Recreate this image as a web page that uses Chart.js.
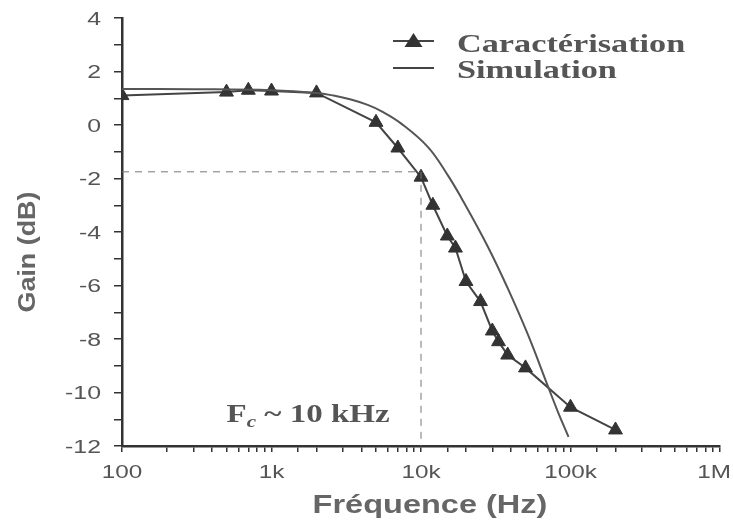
<!DOCTYPE html>
<html>
<head>
<meta charset="utf-8">
<script src="https://cdn.jsdelivr.net/npm/chart.js@4.4.1/dist/chart.umd.min.js"></script>
<style>
  html, body { margin: 0; padding: 0; background: #fff; }
  #wrap { width: 733px; height: 520px; }
</style>
</head>
<body>
<div id="wrap"><canvas id="gainChart" width="733" height="520"></canvas></div>
<script>
// measured response (triangles)
const charFreq = [100, 500, 700, 1000, 2000, 5000, 7000, 10000, 12000, 15000, 17000, 20000, 25000, 30000, 33000, 38000, 50000, 100000, 200000];
const charGain = [1.1, 1.23, 1.3, 1.27, 1.2, 0.1, -0.86, -1.95, -3.0, -4.15, -4.6, -5.85, -6.6, -7.7, -8.1, -8.6, -9.08, -10.55, -11.4];

// simulated response (plain line)
const simFreq = [100, 300, 1000, 2000, 2600, 3400, 4400, 5500, 7300, 11100, 15200, 18500, 28000, 38000, 52000, 71000, 83000, 97000];
const simGain = [1.35, 1.34, 1.3, 1.2, 1.1, 0.95, 0.75, 0.5, 0.07, -0.82, -1.9, -2.7, -4.55, -6.1, -7.85, -9.8, -10.77, -11.66];

// cutoff guide
const guideFreq = [100, 10000, 10000];
const guideGain = [-1.75, -1.75, -12];

const xTickValues = [100, 1000, 10000, 100000, 1000000];
const xTickLabels = ["100", "1k", "10k", "100k", "1M"];
const yTickValues = [4, 2, 0, -2, -4, -6, -8, -10, -12];
const seriesNames = ["Caractérisation", "Simulation"];

const toPoints = (xs, ys) => xs.map((x, i) => ({ x: x, y: ys[i] }));

const serif = "'Liberation Serif', 'DejaVu Serif', serif";
const sans = "'Liberation Sans', Arial, sans-serif";

// the scanned original has horizontally stretched lettering
function stretchText(ctx, text, x, y, sx, align) {
  ctx.save();
  ctx.translate(x, y);
  ctx.scale(sx, 1);
  ctx.textAlign = align;
  ctx.fillText(text, 0, 0);
  ctx.restore();
}

const overlay = {
  id: "overlay",
  afterDraw(chart) {
    const ctx = chart.ctx;
    const xs = chart.scales.x;
    const ys = chart.scales.y;
    ctx.save();
    ctx.textBaseline = "alphabetic";

    // tick labels
    ctx.fillStyle = "#555";
    ctx.font = "18px " + sans;
    xTickValues.forEach((v, i) => {
      const sx = 1.35;
      const half = ctx.measureText(xTickLabels[i]).width * sx / 2;
      const px = Math.min(xs.getPixelForValue(v), chart.width - 2 - half);
      stretchText(ctx, xTickLabels[i], px, 478, sx, "center");
    });
    yTickValues.forEach((v) => {
      stretchText(ctx, String(v), 101, ys.getPixelForValue(v) + 6.5, 1.38, "right");
    });

    // legend
    const lx = 393, lw = 41, tx = 457;
    const rows = [41, 68];
    ctx.strokeStyle = "#444";
    ctx.lineWidth = 2;
    rows.forEach((ry) => {
      ctx.beginPath();
      ctx.moveTo(lx, ry);
      ctx.lineTo(lx + lw, ry);
      ctx.stroke();
    });
    ctx.fillStyle = "#333";
    const cx = lx + lw / 2, cy = rows[0];
    ctx.beginPath();
    ctx.moveTo(cx, cy - 8);
    ctx.lineTo(cx + 9, cy + 6);
    ctx.lineTo(cx - 9, cy + 6);
    ctx.closePath();
    ctx.fill();

    ctx.fillStyle = "#555";
    ctx.font = "bold 25px " + serif;
    stretchText(ctx, seriesNames[0], tx, 52, 1.37, "left");
    stretchText(ctx, seriesNames[1], tx, 78, 1.37, "left");

    // cutoff annotation
    const ax = xs.getPixelForValue(500);
    const ay = ys.getPixelForValue(-11.1);
    ctx.save();
    ctx.translate(ax, ay);
    ctx.scale(1.32, 1);
    ctx.textAlign = "left";
    ctx.font = "bold 25px " + serif;
    ctx.fillText("F", 0, 0);
    let w = ctx.measureText("F").width;
    ctx.font = "italic bold 16px " + serif;
    ctx.fillText("c", w, 5);
    w += ctx.measureText("c").width;
    ctx.font = "bold 25px " + serif;
    ctx.fillText(" ~ 10 kHz", w, 0);
    ctx.restore();

    // axis titles
    ctx.fillStyle = "#666";
    ctx.font = "bold 25px " + sans;
    stretchText(ctx, "Fréquence (Hz)", 430, 513, 1.3, "center");

    ctx.translate(35, 252);
    ctx.rotate(-Math.PI / 2);
    ctx.font = "bold 24px " + sans;
    stretchText(ctx, "Gain (dB)", 0, 0, 1.12, "center");

    ctx.restore();
  }
};

new Chart(document.getElementById("gainChart"), {
  type: "line",
  data: {
    datasets: [
      {
        label: "guide",
        data: toPoints(guideFreq, guideGain),
        borderColor: "#777",
        borderWidth: 1,
        borderDash: [7, 6],
        pointRadius: 0,
        fill: false,
      },
      {
        label: seriesNames[1],
        data: toPoints(simFreq, simGain),
        borderColor: "#555",
        borderWidth: 2,
        pointRadius: 0,
        tension: 0.4,
        fill: false,
      },
      {
        label: seriesNames[0],
        data: toPoints(charFreq, charGain),
        borderColor: "#444",
        borderWidth: 2,
        pointStyle: "triangle",
        pointRadius: 8,
        pointBackgroundColor: "#333",
        pointBorderColor: "#333",
        pointBorderWidth: 1,
        fill: false,
      },
    ],
  },
  options: {
    responsive: false,
    animation: false,
    layout: { padding: { top: 18, right: 13, left: 0, bottom: 0 } },
    plugins: {
      legend: { display: false },
      tooltip: { enabled: false },
    },
    scales: {
      x: {
        type: "logarithmic",
        min: 100,
        max: 1000000,
        afterFit: (scale) => { scale.height = 74; },
        grid: { drawOnChartArea: false, drawTicks: true, tickLength: 6, color: "#333", lineWidth: 1.5 },
        border: { display: true, color: "#333", width: 2.5 },
        ticks: {
          autoSkip: false,
          maxRotation: 0,
          font: { family: sans, size: 18 },
          callback: () => "",
        },
      },
      y: {
        min: -12,
        max: 4,
        afterFit: (scale) => { scale.width = 122; },
        grid: { drawOnChartArea: false, drawTicks: true, tickLength: 8, color: "#333", lineWidth: 1.5 },
        border: { display: true, color: "#333", width: 2.5 },
        ticks: {
          stepSize: 1,
          autoSkip: false,
          font: { family: sans, size: 18 },
          callback: () => "",
        },
      },
    },
  },
  plugins: [overlay],
});
</script>
</body>
</html>
